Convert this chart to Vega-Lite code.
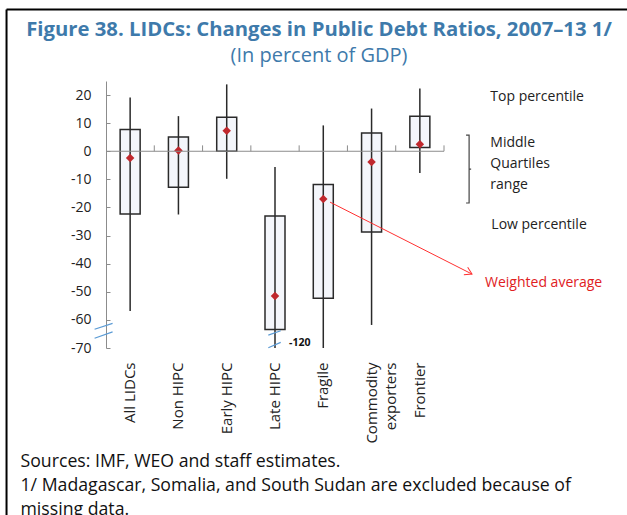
{
  "$schema": "https://vega.github.io/schema/vega-lite/v6.json",
  "width": 338,
  "height": 267,
  "autosize": {"type": "none"},
  "padding": {"left": 106, "top": 81, "right": 183, "bottom": 167},
  "background": "white",
  "config": {"view": {"stroke": null}, "font": "Open Sans", "axis": {"grid": false}, "axisY": {"labelOverlap": false}},
  "title": {
    "text": "Figure 38. LIDCs: Changes in Public Debt Ratios, 2007–13 1/",
    "subtitle": "(In percent of GDP)",
    "anchor": "middle",
    "frame": "group",
    "dx": 44,
    "offset": -57,
    "font": "Open Sans",
    "fontSize": 20.3,
    "fontWeight": "bold",
    "color": "#3e7aab",
    "subtitleFont": "Open Sans",
    "subtitleFontSize": 20,
    "subtitleColor": "#3e7aab",
    "subtitlePadding": 5
  },
  "datasets": {
    "boxes": [
      {"group": "All LIDCs", "low": -56.8, "q1": -22.3, "q3": 7.7, "high": 19.1, "mean": -2.4},
      {"group": "Non HIPC", "low": -22.5, "q1": -12.8, "q3": 5.1, "high": 12.5, "mean": 0.3},
      {"group": "Early HIPC", "low": -9.8, "q1": 0, "q3": 12.1, "high": 23.8, "mean": 7.3},
      {"group": "Late HIPC", "low": -120, "q1": -63.4, "q3": -23, "high": -5.6, "mean": -51.5},
      {"group": "Fragile", "low": -70, "q1": -52.3, "q3": -11.8, "high": 9.2, "mean": -17},
      {"group": "Commodity exporters", "low": -61.8, "q1": -28.7, "q3": 6.5, "high": 15.2, "mean": -3.8},
      {"group": "Frontier", "low": -7.7, "q1": 1.3, "q3": 12.5, "high": 22.3, "mean": 2.5}
    ],
    "gray": [
      {"x": 0, "x2": 7, "y": 0, "y2": 0},
      {"x": 1, "x2": 1, "y": 0, "y2": 2.1},
      {"x": 2, "x2": 2, "y": 0, "y2": 2.1},
      {"x": 3, "x2": 3, "y": 0, "y2": 2.1},
      {"x": 4, "x2": 4, "y": 0, "y2": 2.1},
      {"x": 5, "x2": 5, "y": 0, "y2": 2.1},
      {"x": 6, "x2": 6, "y": 0, "y2": 2.1},
      {"x": 7, "x2": 7, "y": 0, "y2": 2.1}
    ],
    "frame": [
      {"x": -2.06, "x2": -2.06, "y": 50.4, "y2": -140},
      {"x": -2.06, "x2": 13, "y": 50.4, "y2": 50.4}
    ],
    "arrow": [
      {"x": 4.64, "x2": 7.58, "y": -18.1, "y2": -43.7}
    ],
    "arrowhead": [{"x": 7.58, "y": -43.7}],
    "break1": [{"x": -0.05, "y": -63.8}],
    "break2": [{"x": 3.49, "y": -66.9}],
    "bracket": [{"x": 7.52, "y": -6.35}],
    "legendText": [
      {"label": "Top percentile", "x": 7.96, "y": 17.8},
      {"label": "Middle", "x": 7.96, "y": 1.5},
      {"label": "Quartiles", "x": 7.96, "y": -6.1},
      {"label": "range", "x": 7.96, "y": -13.6},
      {"label": "Low percentile", "x": 7.98, "y": -27.5}
    ],
    "redText": [{"label": "Weighted average", "x": 7.85, "y": -48.2}],
    "breakText": [{"label": "-120", "x": 3.79, "y": -69.3}]
  },
  "layer": [
    {
      "data": {"name": "boxes"},
      "encoding": {
        "x": {
          "field": "group",
          "type": "nominal",
          "sort": null,
          "scale": {"paddingInner": 0, "paddingOuter": 0},
          "axis": {
            "labelAngle": -90,
            "ticks": false,
            "domain": false,
            "labelPadding": 14,
            "labelFontSize": 15,
            "labelColor": "#222",
            "labelLineHeight": 19,
            "labelExpr": "datum.value == 'Commodity exporters' ? ['Commodity', 'exporters'] : datum.label",
            "title": ["Sources: IMF, WEO and staff estimates.", "1/ Madagascar, Somalia, and South Sudan are excluded because of", "missing data."],
            "titleFontSize": 17.7,
            "titleFontWeight": "normal",
            "titleColor": "#111",
            "titleAnchor": "start",
            "titleAlign": "left",
            "titleBaseline": "alphabetic",
            "titleX": -86,
            "titleY": 118,
            "titleLineHeight": 24
          }
        }
      },
      "layer": [
        {
          "mark": {"type": "bar", "width": 20, "fill": "#f4f6fb", "stroke": "#2a2a2a", "strokeWidth": 1.5},
          "encoding": {
            "y": {
              "field": "q3",
              "type": "quantitative",
              "scale": {"domain": [-70, 25], "nice": false, "zero": false},
              "axis": {
                "values": [-70, -60, -50, -40, -30, -20, -10, 0, 10, 20],
                "title": null,
                "domainColor": "#8c8c8c",
                "tickColor": "#8c8c8c",
                "tickSize": -4,
                "labelPadding": 19,
                "labelOverlap": false,
                "labelFontSize": 14,
                "labelColor": "#222",
                "labelExpr": "'' + datum.value"
              }
            },
            "y2": {"field": "q1"}
          }
        },
        {
          "mark": {"type": "rule", "color": "#2a2a2a", "strokeWidth": 1.5, "clip": true},
          "encoding": {
            "y": {
              "field": "high",
              "type": "quantitative",
              "scale": {"domain": [-70, 25], "nice": false, "zero": false},
              "axis": {
                "values": [-70, -60, -50, -40, -30, -20, -10, 0, 10, 20],
                "title": null,
                "domainColor": "#8c8c8c",
                "tickColor": "#8c8c8c",
                "tickSize": -4,
                "labelPadding": 19,
                "labelOverlap": false,
                "labelFontSize": 14,
                "labelColor": "#222",
                "labelExpr": "'' + datum.value"
              }
            },
            "y2": {"field": "low"}
          }
        },
        {
          "mark": {"type": "point", "shape": "diamond", "filled": true, "color": "#c0282d", "size": 72, "opacity": 1},
          "encoding": {
            "y": {
              "field": "mean",
              "type": "quantitative",
              "scale": {"domain": [-70, 25], "nice": false, "zero": false},
              "axis": {
                "values": [-70, -60, -50, -40, -30, -20, -10, 0, 10, 20],
                "title": null,
                "domainColor": "#8c8c8c",
                "tickColor": "#8c8c8c",
                "tickSize": -4,
                "labelPadding": 19,
                "labelOverlap": false,
                "labelFontSize": 14,
                "labelColor": "#222",
                "labelExpr": "'' + datum.value"
              }
            }
          }
        }
      ]
    },
    {
      "layer": [
        {
          "data": {"name": "gray"},
          "mark": {"type": "rule", "color": "#8c8c8c", "strokeWidth": 1},
          "encoding": {
            "x": {"field": "x", "type": "quantitative", "scale": {"domain": [0, 7], "nice": false, "zero": false}, "axis": null},
            "x2": {"field": "x2"},
            "y": {"field": "y", "type": "quantitative", "scale": {"domain": [-70, 25], "nice": false, "zero": false}, "axis": null},
            "y2": {"field": "y2"}
          }
        },
        {
          "data": {"name": "frame"},
          "mark": {"type": "rule", "color": "#000", "strokeWidth": 2},
          "encoding": {
            "x": {"field": "x", "type": "quantitative", "axis": null},
            "x2": {"field": "x2"},
            "y": {"field": "y", "type": "quantitative", "axis": null},
            "y2": {"field": "y2"}
          }
        },
        {
          "data": {"name": "arrow"},
          "mark": {"type": "rule", "color": "#ff3030", "strokeWidth": 1},
          "encoding": {
            "x": {"field": "x", "type": "quantitative", "axis": null},
            "x2": {"field": "x2"},
            "y": {"field": "y", "type": "quantitative", "axis": null},
            "y2": {"field": "y2"}
          }
        },
        {
          "data": {"name": "arrowhead"},
          "mark": {"type": "point", "shape": "M -1 -0.6 L 0 0 L -1 0.6", "filled": false, "color": "#ff3030", "strokeWidth": 1, "size": 196, "angle": 27, "opacity": 1},
          "encoding": {
            "x": {"field": "x", "type": "quantitative", "axis": null},
            "y": {"field": "y", "type": "quantitative", "axis": null}
          }
        },
        {
          "data": {"name": "break1"},
          "mark": {"type": "point", "shape": "M -1 -0.15 L 1 -0.8 M -1 0.85 L 1 0.15", "filled": false, "color": "#5b9bd5", "strokeWidth": 1.2, "size": 324, "opacity": 1},
          "encoding": {
            "x": {"field": "x", "type": "quantitative", "axis": null},
            "y": {"field": "y", "type": "quantitative", "axis": null}
          }
        },
        {
          "data": {"name": "break2"},
          "mark": {"type": "point", "shape": "M -1 -0.68 L 1 -1.37 M -1 1.37 L 1 0.5", "filled": false, "color": "#5b9bd5", "strokeWidth": 1.2, "size": 154, "opacity": 1},
          "encoding": {
            "x": {"field": "x", "type": "quantitative", "axis": null},
            "y": {"field": "y", "type": "quantitative", "axis": null}
          }
        },
        {
          "data": {"name": "bracket"},
          "mark": {"type": "point", "shape": "M -0.09 -1 L 0 -1 L 0 1 L -0.09 1 M 0 0 L 0.06 0", "filled": false, "color": "#444", "strokeWidth": 1.2, "size": 4597, "opacity": 1},
          "encoding": {
            "x": {"field": "x", "type": "quantitative", "axis": null},
            "y": {"field": "y", "type": "quantitative", "axis": null}
          }
        },
        {
          "data": {"name": "legendText"},
          "mark": {"type": "text", "align": "left", "baseline": "alphabetic", "fontSize": 14, "color": "#222"},
          "encoding": {
            "x": {"field": "x", "type": "quantitative", "axis": null},
            "y": {"field": "y", "type": "quantitative", "axis": null},
            "text": {"field": "label"}
          }
        },
        {
          "data": {"name": "redText"},
          "mark": {"type": "text", "align": "left", "baseline": "alphabetic", "fontSize": 14, "color": "#e0201e"},
          "encoding": {
            "x": {"field": "x", "type": "quantitative", "axis": null},
            "y": {"field": "y", "type": "quantitative", "axis": null},
            "text": {"field": "label"}
          }
        },
        {
          "data": {"name": "breakText"},
          "mark": {"type": "text", "align": "left", "baseline": "alphabetic", "fontSize": 10.5, "fontWeight": "bold", "color": "#111"},
          "encoding": {
            "x": {"field": "x", "type": "quantitative", "axis": null},
            "y": {"field": "y", "type": "quantitative", "axis": null},
            "text": {"field": "label"}
          }
        }
      ]
    }
  ],
  "resolve": {"scale": {"x": "independent"}, "axis": {"y": "independent"}}
}
